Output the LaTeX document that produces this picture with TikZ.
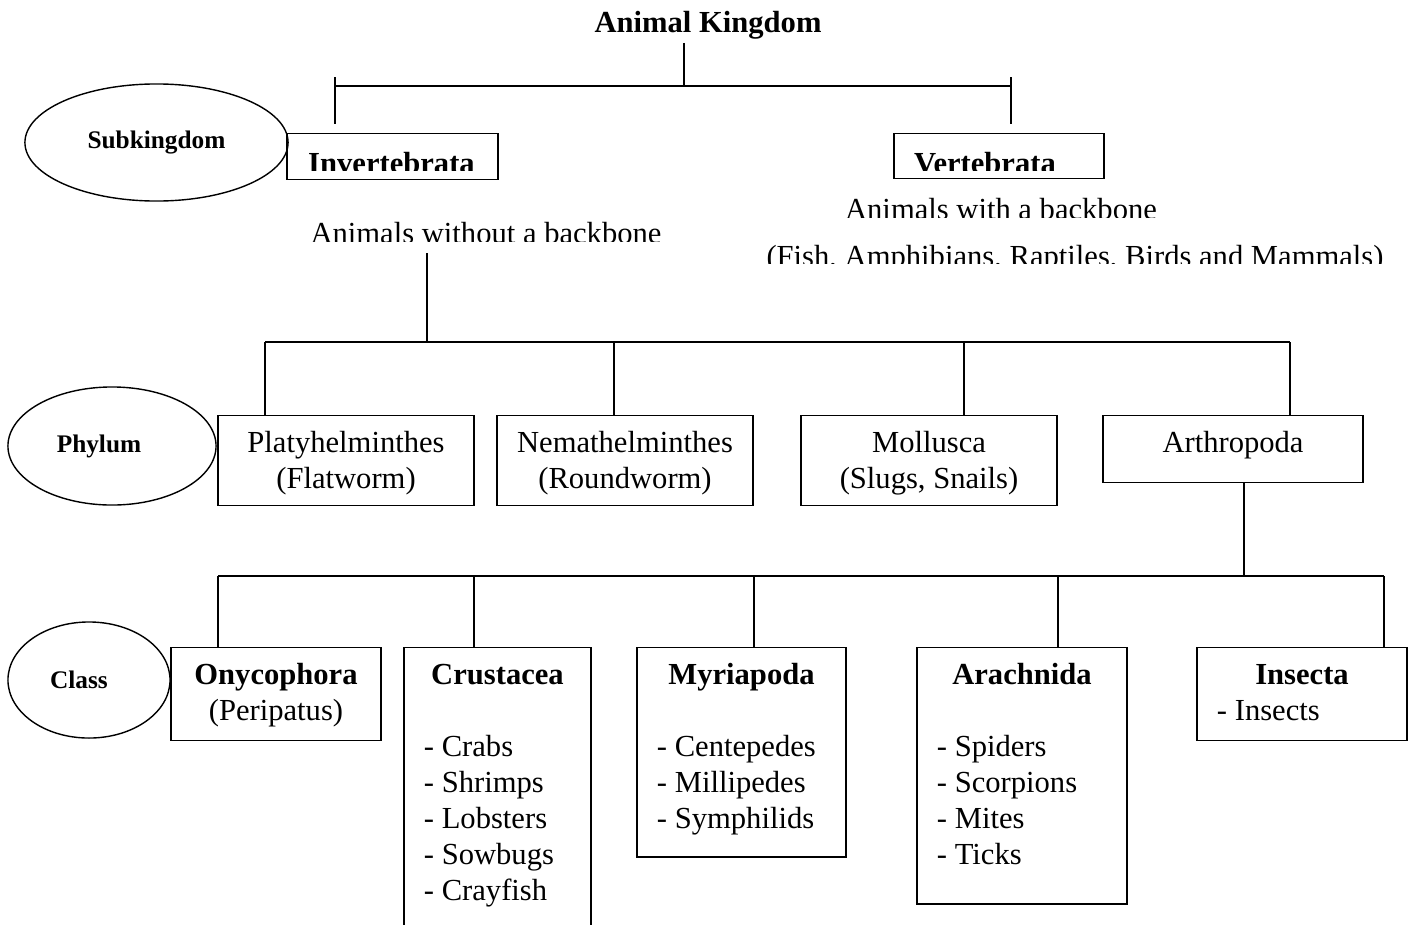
\documentclass[tikz,border=0pt]{standalone}
\usepackage{fontspec}
\setmainfont{Liberation Serif}
\usetikzlibrary{shapes.geometric}
\newcommand{\cellbox}[3]{\parbox[t][#1][t]{#2}{\vspace*{0.12cm}\strut#3}}

\begin{document}
\begin{tikzpicture}[x=0.01cm, y=-0.01cm,
    every node/.style={font=\fontsize{8.7pt}{10.24pt}\selectfont},
    head/.style={font=\fontsize{8.7pt}{10.24pt}\selectfont\bfseries},
    rankname/.style={font=\fontsize{7.2pt}{8.6pt}\selectfont\bfseries},
    rank/.style={draw, ellipse, inner sep=0pt, rankname},
    taxon/.style={draw, anchor=north, inner sep=0pt},
    note/.style={anchor=base, inner sep=0pt}]
		\useasboundingbox (0,0) rectangle (1416,924);
		\clip (0,0) rectangle (1416,924);

		% kingdom and subkingdoms
		\node[head, anchor=base, inner sep=1pt] (kingdom) at (708,32) {Animal Kingdom};
		\coordinate (kjoin) at (684,86);
		\coordinate (invtick) at (335,86);
		\coordinate (vertick) at (1011,86);
		\draw (kingdom.south -| kjoin) -- (kjoin);
		\draw (invtick) -- (vertick);
		\draw (invtick) ++(0,-9) -- ++(0,47);
		\draw (vertick) ++(0,-9) -- ++(0,47);

		\node[rank, minimum width=2.63cm, minimum height=1.17cm] (subk) at (156.5,142.5) {Subkingdom};
		\node[taxon, minimum width=2.11cm, minimum height=0.46cm] (invert) at (392.5,133) {};
		\node[taxon, minimum width=2.10cm, minimum height=0.45cm] (vert) at (999,133) {};
		\begin{scope}
			\clip (287,133) rectangle (498,170);
			\node[note, head] (invname) at (391.5,173.5) {Invertebrata};
		\end{scope}
		\begin{scope}
			\clip (894,133) rectangle (1104,170);
			\node[note, head] (vertname) at (985,173.5) {Vertebrata};
		\end{scope}
		\begin{scope}
			\clip (280,200) rectangle (700,241);
			\node[note, outer sep=0.1cm] (without) at (486,243) {Animals without a backbone};
		\end{scope}
		\begin{scope}
			\clip (800,180) rectangle (1200,217);
			\node[note] (with) at (1001,219) {Animals with a backbone};
		\end{scope}
		\begin{scope}
			\clip (740,225) rectangle (1416,263);
			\node[note] (examples) at (1075,266) {(Fish, Amphibians, Raptiles, Birds and Mammals)};
		\end{scope}

		% phylum
		\coordinate (invjoin) at (427,342);
		\draw (without.south -| invjoin) -- (invjoin);
		\node[rank, minimum width=2.08cm, minimum height=1.18cm,
		      label={[rankname, xshift=-0.13cm]center:Phylum}] (phylum) at (112,446) {};
		\node[taxon] (platy) at (346,415) {\cellbox{0.9cm}{2.56cm}{\centering Platyhelminthes\\(Flatworm)}};
		\node[taxon] (nemat) at (625,415) {\cellbox{0.9cm}{2.56cm}{\centering Nemathelminthes\\(Roundworm)}};
		\node[taxon] (mollu) at (929,415) {\cellbox{0.9cm}{2.56cm}{\centering Mollusca\\(Slugs, Snails)}};
		\node[taxon] (arthro) at (1233,415) {\cellbox{0.67cm}{2.6cm}{\centering Arthropoda}};
		\coordinate (pleft) at (265,342);
		\coordinate (pright) at (1290,342);
		\draw (pleft) -- (pright);
		\foreach \x/\n in {265/platy, 614/nemat, 964/mollu, 1290/arthro}
			\draw (\x,342) coordinate (drop) -- (drop |- \n.north);

		% class
		\coordinate (cjoin) at (1244,576);
		\draw (arthro.south -| cjoin) -- (cjoin);
		\node[rank, minimum width=1.62cm, minimum height=1.16cm,
		      label={[rankname, xshift=-0.10cm]center:Class}] (class) at (89,680) {};
		\node[taxon] (onyco) at (276,647) {\cellbox{0.93cm}{2.10cm}{\centering\textbf{Onycophora}\\(Peripatus)}};
		\node[taxon] (crust) at (497.5,647) {\cellbox{3cm}{1.87cm}{\centering\textbf{Crustacea}\par
			\raggedright\leftskip=0.2cm\mbox{}\\- Crabs\\- Shrimps\\- Lobsters\\- Sowbugs\\- Crayfish}};
		\node[taxon] (myria) at (741.5,647) {\cellbox{2.09cm}{2.09cm}{\centering\textbf{Myriapoda}\par
			\raggedright\leftskip=0.2cm\mbox{}\\- Centepedes\\- Millipedes\\- Symphilids}};
		\node[taxon] (arach) at (1022,647) {\cellbox{2.56cm}{2.10cm}{\centering\textbf{Arachnida}\par
			\raggedright\leftskip=0.2cm\mbox{}\\- Spiders\\- Scorpions\\- Mites\\- Ticks}};
		\node[taxon] (insec) at (1302,647) {\cellbox{0.93cm}{2.10cm}{\centering\textbf{Insecta}\par
			\raggedright\leftskip=0.2cm - Insects}};
		\coordinate (cleft) at (218,576);
		\coordinate (cright) at (1384,576);
		\draw (cleft) -- (cright);
		\foreach \x/\n in {218/onyco, 474/crust, 754/myria, 1058/arach, 1384/insec}
			\draw (\x,576) coordinate (drop) -- (drop |- \n.north);
	\end{tikzpicture}
\end{document}
